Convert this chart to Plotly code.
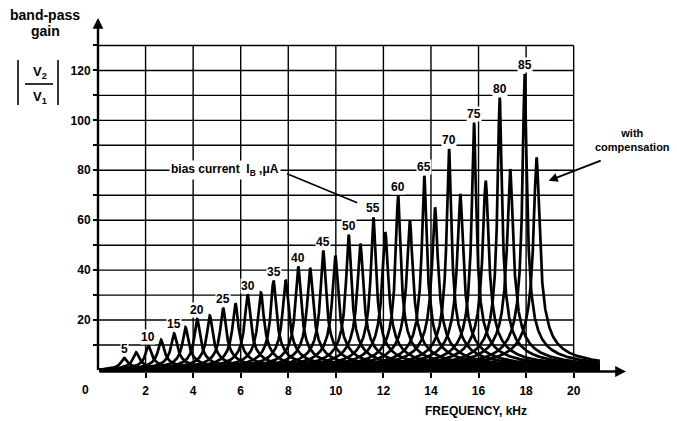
import numpy as np
import plotly.graph_objects as go

# ---- data ----
bias_current_uA = [5, 10, 15, 20, 25, 30, 35, 40, 45, 50, 55, 60, 65, 70, 75, 80, 85]
# resonance (centre) frequency, kHz, and peak gain without compensation
f_peak_khz = [1.10, 2.12, 3.20, 4.17, 5.26, 6.29, 7.38, 8.42, 9.47, 10.54,
              11.58, 12.62, 13.72, 14.76, 15.81, 16.89, 17.94]
gain_peak = [4.9, 9.8, 14.7, 20.5, 24.9, 30.2, 35.8, 41.4, 47.8, 54.2,
             61.1, 69.8, 77.8, 88.5, 99.1, 109.1, 118.6]
# same bias currents, with compensation
f_peak_comp_khz = [1.60, 2.65, 3.68, 4.70, 5.78, 6.85, 7.89, 8.92, 9.98, 11.03,
                   12.08, 13.11, 14.17, 15.23, 16.30, 17.33, 18.44]
gain_peak_comp = [7.1, 12.1, 17.1, 21.8, 26.7, 31.1, 36.1, 40.9, 45.8, 50.5,
                  55.1, 60.0, 65.1, 70.5, 75.8, 80.5, 85.1]

x_ticks = [2, 4, 6, 8, 10, 12, 14, 16, 18, 20]
y_ticks = [10, 20, 30, 40, 50, 60, 70, 80, 90, 100, 110, 120, 130]
y_labels = ["", "20", "", "40", "", "60", "", "80", "", "100", "", "120", ""]

FONT = "Liberation Sans"
ML, MR, MT, MB = 98, 51, 18, 49
W, H = 677, 421
PW, PH = W - ML - MR, H - MT - MB


def bandpass(f, f0, g):
    # second-order band-pass response, centre gain g (= Q)
    return g / np.sqrt(1.0 + (g * (f / f0 - f0 / f)) ** 2)


fig = go.Figure()
base = np.linspace(0.05, 21.1, 3000)
for f0s, gs in ((f_peak_khz, gain_peak), (f_peak_comp_khz, gain_peak_comp)):
    for f0, g in zip(f0s, gs):
        f = np.sort(np.unique(np.concatenate([base, [f0], f0 + np.linspace(-0.6, 0.6, 241)])))
        fig.add_trace(go.Scatter(x=f, y=bandpass(f, f0, g), mode="lines",
                                 line=dict(color="black", width=2.7),
                                 showlegend=False, hoverinfo="skip"))


def px(xp):
    return (xp - ML) / PW


def py(yp):
    return (H - MB - yp) / PH


shapes = []
for xv in x_ticks:
    shapes.append(dict(type="line", xref="x", yref="y", x0=xv, x1=xv, y0=0, y1=130,
                       line=dict(color="black", width=1.4), layer="below"))
for yv in y_ticks:
    shapes.append(dict(type="line", xref="x", yref="y", x0=0, x1=20, y0=yv, y1=yv,
                       line=dict(color="black", width=1.4), layer="below"))
# leader line to the bias-current labels
shapes.append(dict(type="line", xref="x", yref="y", x0=7.95, y0=78.6, x1=10.9, y1=67.0,
                   line=dict(color="black", width=1.6)))
# |V2/V1| symbol
shapes += [
    dict(type="line", xref="paper", yref="paper", x0=px(18), x1=px(18), y0=py(60), y1=py(105),
         line=dict(color="black", width=1.6)),
    dict(type="line", xref="paper", yref="paper", x0=px(58), x1=px(58), y0=py(60), y1=py(105),
         line=dict(color="black", width=1.6)),
    dict(type="line", xref="paper", yref="paper", x0=px(25), x1=px(53), y0=py(84), y1=py(84),
         line=dict(color="black", width=1.6)),
]


def ptext(x, y, text, size):
    return dict(x=px(x), y=py(y), xref="paper", yref="paper", text=text, showarrow=False,
                xanchor="center", yanchor="middle",
                font=dict(family=FONT, size=size, color="black"))


ann = []
for cur, f0, g in zip(bias_current_uA, f_peak_khz, gain_peak):
    ann.append(dict(x=f0, y=g, xref="x", yref="y", text=f"<b>{cur}</b>", showarrow=False,
                    xanchor="center", yanchor="bottom", yshift=1, bgcolor="white", borderpad=0,
                    font=dict(family=FONT, size=12, color="black")))
ann += [
    dict(x=5.32, y=80, xref="x", yref="y", text="<b>bias current  I<sub>B</sub> ,μA</b>",
         showarrow=False, bgcolor="white", borderpad=1, xanchor="center", yanchor="middle",
         font=dict(family=FONT, size=12, color="black")),
    ptext(632, 140, "<b>with<br>compensation</b>", 11),
    dict(x=18.95, y=75.8, ax=21.2, ay=84.1, xref="x", yref="y", axref="x", ayref="y",
         text="", showarrow=True, arrowhead=2, arrowsize=1, arrowwidth=1.8, arrowcolor="black"),
    # axis arrows
    dict(x=0, y=141, ax=0, ay=-0.6, xref="x", yref="y", axref="x", ayref="y",
         text="", showarrow=True, arrowhead=2, arrowsize=0.9, arrowwidth=2.4, arrowcolor="black"),
    dict(x=22.2, y=-0.6, ax=0, ay=-0.6, xref="x", yref="y", axref="x", ayref="y",
         text="", showarrow=True, arrowhead=2, arrowsize=0.9, arrowwidth=2.4, arrowcolor="black"),
    ptext(85, 390, "<b>0</b>", 12),
    ptext(45, 15, "<b>band-pass</b>", 14),
    ptext(45, 31, "<b>gain</b>", 14),
    ptext(40, 73, "<b>V<sub>2</sub></b>", 13),
    ptext(40, 97, "<b>V<sub>1</sub></b>", 13),
    ptext(476, 411, "<b>FREQUENCY, kHz</b>", 12),
]

fig.update_layout(
    width=W, height=H,
    margin=dict(l=ML, r=MR, t=MT, b=MB),
    paper_bgcolor="white", plot_bgcolor="white",
    shapes=shapes, annotations=ann,
    xaxis=dict(range=[0, 22.2], showgrid=False, zeroline=False, showline=False,
               tickvals=x_ticks, ticktext=[f"<b>{v}</b>" for v in x_ticks],
               ticks="outside", ticklen=5, tickwidth=1.5, tickcolor="black",
               tickfont=dict(family=FONT, size=12, color="black"), ticklabelstandoff=3),
    yaxis=dict(range=[-0.8, 141], showgrid=False, zeroline=False, showline=False,
               tickvals=y_ticks, ticktext=[f"<b>{t}</b>" if t else "" for t in y_labels],
               ticks="outside", ticklen=4, tickwidth=1.5, tickcolor="black",
               tickfont=dict(family=FONT, size=12, color="black")),
)
fig.write_html("out.html", config={"displayModeBar": False},
               post_script="document.body.style.margin='0px';")
